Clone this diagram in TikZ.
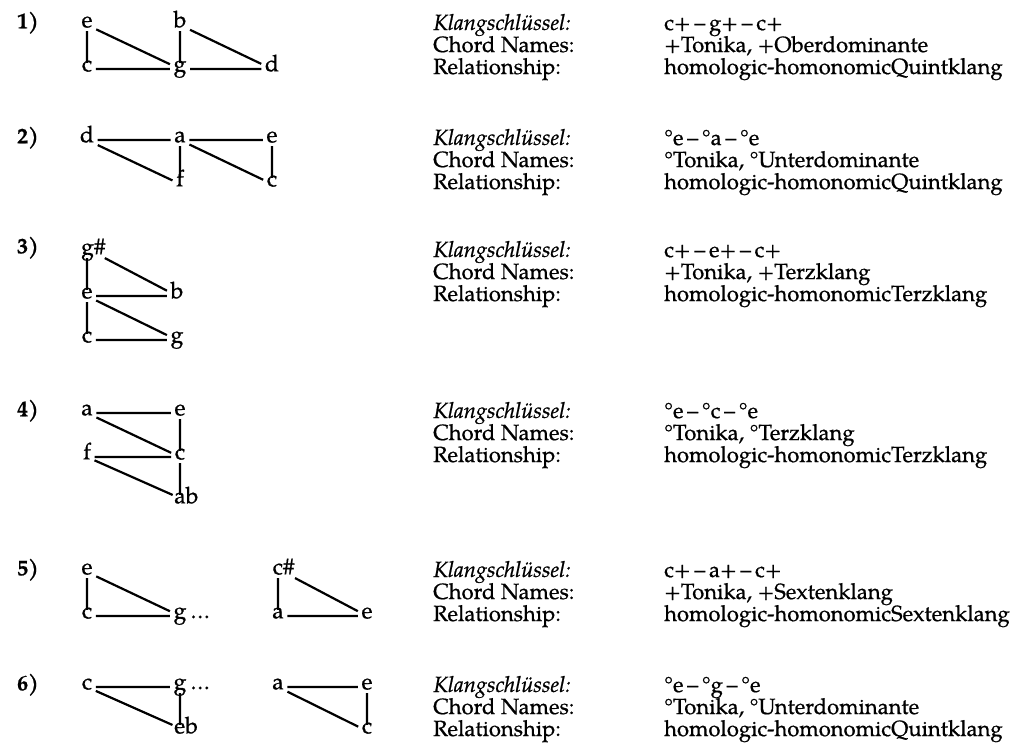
\documentclass[tikz,border=0pt]{standalone}
\usepackage{fontspec}
\setmainfont{TeX Gyre Pagella}[FakeBold=0.7]
\tikzset{
  nd/.style={inner sep=3.5pt, text height=1ex, text depth=0pt, font=\fontsize{23}{23}\selectfont},
  ln/.style={line width=2.2pt},
  rowlbl/.style={font=\fontsize{22}{22}\selectfont\bfseries, inner sep=0pt, text height=1.4ex, text depth=0pt},
  txt/.style={anchor=base west, inner sep=0pt},
  dots/.style={label={[inner sep=0pt, anchor=base west, font=\fontsize{23}{23}\selectfont]base east:\ldots}}
}
\newcommand{\rowtext}[5]{%
  \node[txt] (tk#1) at (433,#2+5) {\itshape Klangschlüssel:};
  \node[txt] (vk#1) at (664,#2+5) {#3};
  \node[txt] (tc#1) at (433,#2+27) {Chord Names:};
  \node[txt] (vc#1) at (664,#2+27) {#4};
  \node[txt] (tr#1) at (433,#2+49) {Relationship:};
  \node[txt] (vr#1) at (664,#2+49) {#5};
}
\begin{document}
\begin{tikzpicture}[x=1pt,y=-1pt,font=\fontsize{22}{22}\selectfont]
\useasboundingbox (0,0) rectangle (1024,745);

% ---------- Row 1
\node[rowlbl] (l1) at (28,25) {1)};
\node[nd] (n1e) at (87,25) {e};
\node[nd] (n1b) at (180,25) {b};
\node[nd] (n1c) at (87,69) {c};
\node[nd] (n1g) at (180,69) {g};
\node[nd] (n1d) at (272,69) {d};
\draw[ln] (n1e)--(n1c) (n1e)--(n1g) (n1c)--(n1g) (n1b)--(n1g) (n1b)--(n1d) (n1g)--(n1d);
\rowtext{1}{25}{c+\,--\,g+\,--\,c+}{+Tonika, +Oberdominante}{homologic-homonomicQuintklang}

% ---------- Row 2
\node[rowlbl] (l2) at (28,140) {2)};
\node[nd] (n2d) at (87,140) {d};
\node[nd] (n2a) at (180,140) {a};
\node[nd] (n2e) at (272,140) {e};
\node[nd] (n2f) at (180,184) {f};
\node[nd] (n2c) at (272,184) {c};
\draw[ln] (n2d)--(n2a) (n2d)--(n2f) (n2a)--(n2f) (n2a)--(n2e) (n2a)--(n2c) (n2e)--(n2c);
\rowtext{2}{140}{°e\,--\,°a\,--\,°e}{°Tonika, °Unterdominante}{homologic-homonomicQuintklang}

% ---------- Row 3
\node[rowlbl] (l3) at (28,250) {3)};
\node[nd, anchor=west] (n3gs) at (77.5,252) {g\#};
\node[nd] (n3e) at (87,296) {e};
\node[nd] (n3b) at (177,296) {b};
\node[nd] (n3c) at (87,340) {c};
\node[nd] (n3g) at (177,340) {g};
\draw[ln] (n3gs.south -| n3e)--(n3e) (n3gs)--(n3b) (n3e)--(n3b) (n3e)--(n3c) (n3e)--(n3g) (n3c)--(n3g);
\rowtext{3}{252}{c+\,--\,e+\,--\,c+}{+Tonika, +Terzklang}{homologic-homonomicTerzklang}

% ---------- Row 4
\node[rowlbl] (l4) at (28,413) {4)};
\node[nd] (n4a) at (87,413) {a};
\node[nd] (n4e) at (180,413) {e};
\node[nd] (n4f) at (87,457) {f};
\node[nd] (n4c) at (180,457) {c};
\node[nd, anchor=west] (n4ab) at (170.5,501) {ab};
\draw[ln] (n4a)--(n4e) (n4a)--(n4c) (n4e)--(n4c) (n4f)--(n4c) (n4f)--(n4ab) (n4c)--(n4c |- n4ab.north);
\rowtext{4}{413}{°e\,--\,°c\,--\,°e}{°Tonika, °Terzklang}{homologic-homonomicTerzklang}

% ---------- Row 5
\node[rowlbl] (l5) at (28,572) {5)};
\node[nd] (n5e) at (87,572) {e};
\node[nd] (n5c) at (87,616) {c};
\node[nd, dots] (n5g) at (180,616) {g};
\node[nd, anchor=west] (n5cs) at (269,572) {c\#};
\node[nd] (n5a) at (278,616) {a};
\node[nd] (n5e2) at (367,616) {e};
\draw[ln] (n5e)--(n5c) (n5e)--(n5g) (n5c)--(n5g);
\draw[ln] (n5cs.south -| n5a)--(n5a) (n5cs)--(n5e2) (n5a)--(n5e2);
\rowtext{5}{572}{c+\,--\,a+\,--\,c+}{+Tonika, +Sextenklang}{homologic-homonomicSextenklang}

% ---------- Row 6
\node[rowlbl] (l6) at (28,687) {6)};
\node[nd] (n6c) at (87,687) {c};
\node[nd, dots] (n6g) at (180,687) {g};
\node[nd, anchor=west] (n6eb) at (170.5,731) {eb};
\node[nd] (n6a) at (278,687) {a};
\node[nd] (n6e) at (367,687) {e};
\node[nd] (n6c2) at (367,731) {c};
\draw[ln] (n6c)--(n6g) (n6c)--(n6eb) (n6g)--(n6g |- n6eb.north);
\draw[ln] (n6a)--(n6e) (n6a)--(n6c2) (n6e)--(n6c2);
\rowtext{6}{687}{°e\,--\,°g\,--\,°e}{°Tonika, °Unterdominante}{homologic-homonomicQuintklang}
\end{tikzpicture}
\end{document}
